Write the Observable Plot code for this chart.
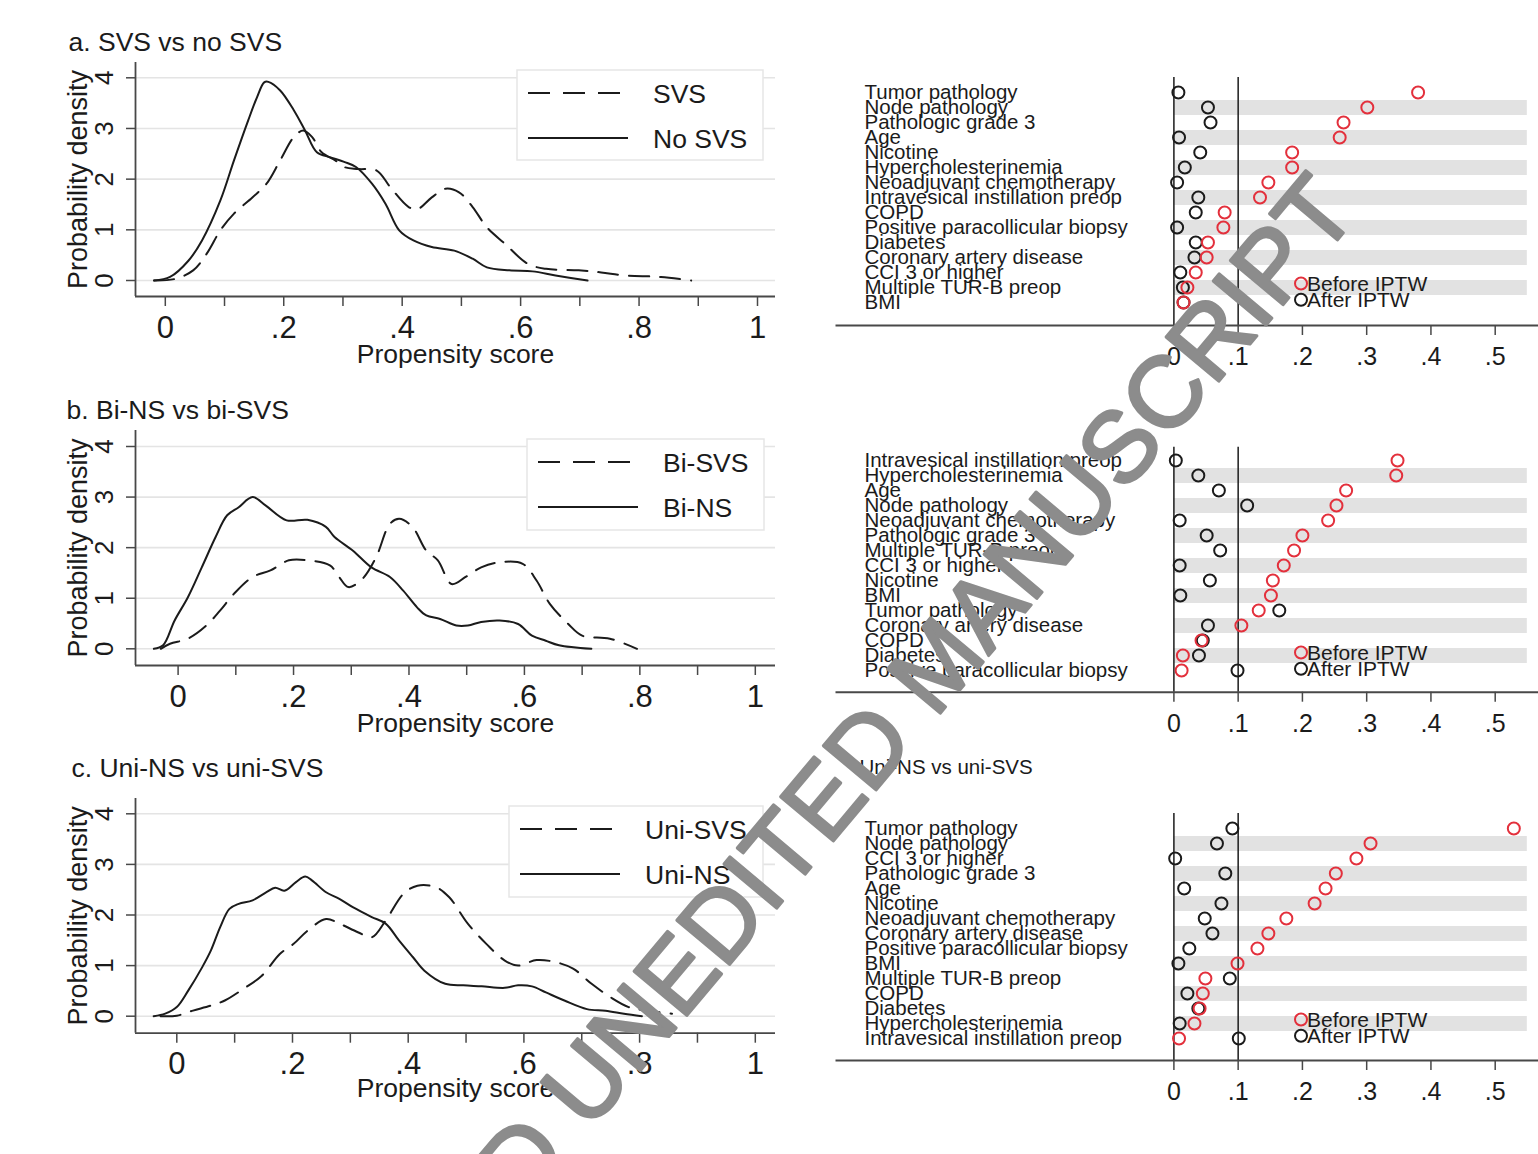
<!DOCTYPE html>
<html>
<head>
<meta charset="utf-8">
<script src="https://cdn.jsdelivr.net/npm/d3@7"></script>
<script src="https://cdn.jsdelivr.net/npm/@observablehq/plot@0.6"></script>
<style>
  html, body { margin: 0; padding: 0; background: #fff; }
  #fig { position: relative; width: 1538px; height: 1154px; overflow: hidden; background: #fff; }
  #fig > svg { position: absolute; left: 0; top: 0; }
</style>
</head>
<body>
<div id="fig"></div>
<script>
// ---------------- DATA ----------------
// Panel a: density of propensity score, [score, density]
const svsA = [[-0.019,0],[0.016,0.03],[0.047,0.2],[0.07,0.53],[0.093,0.99],[0.116,1.32],[0.147,1.64],[0.171,1.91],[0.194,2.37],[0.217,2.83],[0.233,2.96],[0.248,2.83],[0.264,2.53],[0.287,2.37],[0.302,2.24],[0.326,2.2],[0.357,2.17],[0.38,1.84],[0.411,1.45],[0.426,1.41],[0.45,1.64],[0.473,1.81],[0.496,1.74],[0.519,1.45],[0.543,1.05],[0.574,0.72],[0.612,0.33],[0.643,0.23],[0.698,0.2],[0.736,0.16],[0.775,0.1],[0.837,0.07],[0.888,0]];
const noSvsA = [[-0.019,0],[0.008,0.07],[0.039,0.39],[0.062,0.79],[0.093,1.58],[0.116,2.37],[0.14,3.16],[0.155,3.62],[0.167,3.91],[0.174,3.92],[0.194,3.75],[0.217,3.36],[0.236,2.96],[0.256,2.53],[0.279,2.43],[0.302,2.34],[0.322,2.24],[0.349,1.91],[0.372,1.51],[0.395,0.99],[0.419,0.79],[0.45,0.66],[0.488,0.59],[0.519,0.43],[0.543,0.26],[0.581,0.2],[0.62,0.18],[0.659,0.1],[0.713,0]];
// Panel b
const biSvsB = [[-0.03,0],[-0.014,0.1],[0.017,0.2],[0.049,0.46],[0.073,0.76],[0.097,1.09],[0.129,1.42],[0.16,1.55],[0.192,1.75],[0.224,1.75],[0.263,1.65],[0.279,1.42],[0.295,1.22],[0.319,1.38],[0.343,1.81],[0.367,2.47],[0.383,2.57],[0.406,2.41],[0.43,1.94],[0.45,1.75],[0.474,1.28],[0.498,1.42],[0.525,1.61],[0.557,1.71],[0.597,1.68],[0.621,1.35],[0.644,0.89],[0.676,0.49],[0.7,0.26],[0.748,0.2],[0.795,0]];
const biNsB = [[-0.042,0],[-0.026,0.07],[-0.006,0.56],[0.017,1.02],[0.041,1.61],[0.065,2.21],[0.085,2.64],[0.105,2.8],[0.129,3.0],[0.152,2.83],[0.188,2.54],[0.224,2.55],[0.256,2.41],[0.271,2.21],[0.303,1.94],[0.335,1.61],[0.367,1.42],[0.39,1.15],[0.414,0.82],[0.43,0.66],[0.454,0.59],[0.482,0.46],[0.502,0.46],[0.525,0.53],[0.557,0.56],[0.589,0.49],[0.613,0.26],[0.637,0.16],[0.66,0.07],[0.716,0]];
// Panel c
const uniSvsC = [[-0.028,0],[0,0.01],[0.028,0.11],[0.059,0.21],[0.083,0.31],[0.115,0.54],[0.147,0.8],[0.178,1.23],[0.202,1.43],[0.226,1.69],[0.258,1.92],[0.281,1.83],[0.313,1.66],[0.337,1.56],[0.361,1.89],[0.392,2.42],[0.416,2.58],[0.448,2.55],[0.471,2.35],[0.503,1.83],[0.535,1.43],[0.567,1.1],[0.59,1.0],[0.622,1.11],[0.654,1.07],[0.685,0.94],[0.717,0.64],[0.749,0.38],[0.781,0.18],[0.812,0.11],[0.856,0.05]];
const uniNsC = [[-0.04,0],[-0.02,0.05],[0,0.18],[0.02,0.51],[0.044,0.97],[0.059,1.3],[0.075,1.76],[0.091,2.12],[0.107,2.22],[0.131,2.29],[0.155,2.45],[0.17,2.54],[0.186,2.48],[0.206,2.65],[0.222,2.76],[0.234,2.68],[0.258,2.45],[0.281,2.32],[0.305,2.15],[0.337,1.96],[0.361,1.83],[0.384,1.5],[0.408,1.17],[0.428,0.9],[0.464,0.64],[0.495,0.61],[0.527,0.59],[0.567,0.56],[0.59,0.61],[0.614,0.59],[0.638,0.47],[0.67,0.31],[0.709,0.14],[0.741,0.11],[0.773,0.05],[0.804,0]];

// Standardized differences, before / after IPTW
const rows1 = ["Tumor pathology","Node pathology","Pathologic grade 3","Age","Nicotine","Hypercholesterinemia","Neoadjuvant chemotherapy","Intravesical instillation preop","COPD","Positive paracollicular biopsy","Diabetes","Coronary artery disease","CCI 3 or higher","Multiple TUR-B preop","BMI"];
const before1 = [0.380,0.301,0.264,0.258,0.184,0.184,0.147,0.134,0.079,0.077,0.053,0.051,0.034,0.021,0.015];
const after1  = [0.007,0.053,0.057,0.008,0.041,0.017,0.005,0.038,0.034,0.005,0.034,0.032,0.010,0.014,0.015];

const rows2 = ["Intravesical instillation preop","Hypercholesterinemia","Age","Node pathology","Neoadjuvant chemotherapy","Pathologic grade 3","Multiple TUR-B preop","CCI 3 or higher","Nicotine","BMI","Tumor pathology","Coronary artery disease","COPD","Diabetes","Positive paracollicular biopsy"];
const before2 = [0.348,0.346,0.268,0.253,0.240,0.200,0.187,0.171,0.154,0.151,0.132,0.105,0.043,0.014,0.012];
const after2  = [0.003,0.038,0.070,0.114,0.009,0.051,0.072,0.009,0.056,0.010,0.164,0.053,0.045,0.039,0.099];

const rows3 = ["Tumor pathology","Node pathology","CCI 3 or higher","Pathologic grade 3","Age","Nicotine","Neoadjuvant chemotherapy","Coronary artery disease","Positive paracollicular biopsy","BMI","Multiple TUR-B preop","COPD","Diabetes","Hypercholesterinemia","Intravesical instillation preop"];
const before3 = [0.529,0.306,0.284,0.252,0.236,0.219,0.175,0.147,0.130,0.099,0.049,0.045,0.040,0.032,0.008];
const after3  = [0.091,0.067,0.002,0.080,0.016,0.074,0.048,0.060,0.024,0.007,0.087,0.021,0.038,0.009,0.101];

// Ticks and labels
const densityXTicks = [0, 0.2, 0.4, 0.6, 0.8, 1];
const densityXTickLabels = ["0", ".2", ".4", ".6", ".8", "1"];
const densityYTicks = [0, 1, 2, 3, 4];
const smdTicks = [0, 0.1, 0.2, 0.3, 0.4, 0.5];
const smdTickLabels = ["0", ".1", ".2", ".3", ".4", ".5"];
const smdRefLines = [0, 0.1];
const xAxisTitle = "Propensity score";
const yAxisTitle = "Probability density";
const titles = ["a. SVS vs no SVS", "b. Bi-NS vs bi-SVS", "c. Uni-NS vs uni-SVS"];
const seriesNames = [["SVS", "No SVS"], ["Bi-SVS", "Bi-NS"], ["Uni-SVS", "Uni-NS"]];
const smdTitle3 = "Uni-NS vs uni-SVS";
const legendNames = ["Before IPTW", "After IPTW"];
const watermarkText = "D UNEDITED MANUSCRIPT";

// ---------------- STYLE / LAYOUT ----------------
const W = 1538, H = 1154;
const FONT = '"Liberation Sans", Arial, Helvetica, sans-serif';
const INK = "#1b1b1b";
const AXIS = "#484848";
const RED = "#e3303c";
const GRID = "#e4e4e4";
const STRIPE = "#e2e2e2";
const tenths = d3.range(11).map(i => i / 10);

function fmtFrom(ticks, labels) {
  return d => {
    const i = ticks.findIndex(t => Math.abs(t - d) < 1e-9);
    return i >= 0 ? labels[i] : "";
  };
}

const leftLayout = [
  {frame: {l: 135, r: 775, t: 62, b: 296}, x0px: 164.8, x1px: 757, y0px: 280, y4px: 77.3,
   titleX: 68, titleY: 42, xTitleY: 354, legend: {x: 517, y: 70, w: 246, h: 90}},
  {frame: {l: 135, r: 775, t: 430, b: 665}, x0px: 177.6, x1px: 754.8, y0px: 648.3, y4px: 446,
   titleX: 66, titleY: 410, xTitleY: 723, legend: {x: 527, y: 439, w: 237, h: 91}},
  {frame: {l: 135, r: 775, t: 798, b: 1032.7}, x0px: 176.3, x1px: 754.8, y0px: 1015.7, y4px: 813.3,
   titleX: 71, titleY: 768, xTitleY: 1088, legend: {x: 509, y: 806, w: 254, h: 91}}
];
const leftSeries = [[svsA, noSvsA], [biSvsB, biNsB], [uniSvsC, uniNsC]];

const rightLayout = [
  {frame: {l: 836, r: 1538, t: 77, b: 325}, row0: 85.7, rowN: 308.3},
  {frame: {l: 836, r: 1538, t: 446.7, b: 691.7}, row0: 454, rowN: 676.7},
  {frame: {l: 836, r: 1538, t: 813, b: 1060}, row0: 821.7, rowN: 1044, titleX: 859, titleY: 767}
];
const rightX0px = 1173.4, rightX5px = 1494.7, stripeEnd = 0.55;
const rightSeries = [[rows1, before1, after1], [rows2, before2, after2], [rows3, before3, after3]];

const fig = document.getElementById("fig");

function densityPanel(i) {
  const p = leftLayout[i];
  const [dashed, solid] = leftSeries[i];
  const ux = p.x1px - p.x0px;
  const uy = (p.y0px - p.y4px) / 4;
  const xDom = [(p.frame.l - p.x0px) / ux, (p.frame.r - p.x0px) / ux];
  const yDom = [(p.y0px - p.frame.b) / uy, (p.y0px - p.frame.t) / uy];
  return Plot.plot({
    width: W, height: H,
    marginLeft: p.frame.l, marginRight: W - p.frame.r,
    marginTop: p.frame.t, marginBottom: H - p.frame.b,
    x: {domain: xDom, label: null}, y: {domain: yDom, label: null},
    style: {background: "transparent", fontFamily: FONT, fontSize: "31px", color: AXIS},
    marks: [
      Plot.gridY(densityYTicks, {stroke: GRID, strokeOpacity: 1, strokeWidth: 1.6}),
      Plot.axisX({ticks: tenths, tickSize: 10, tickPadding: 9, tickFormat: fmtFrom(densityXTicks, densityXTickLabels),
                  label: null, fontSize: 31, fill: INK, stroke: AXIS, strokeWidth: 1.5}),
      Plot.axisY({ticks: densityYTicks, tickSize: 9, tickFormat: () => "", label: null, stroke: AXIS, strokeWidth: 1.5}),
      Plot.ruleX([xDom[0]], {stroke: AXIS, strokeWidth: 1.8}),
      Plot.ruleY([yDom[0]], {stroke: AXIS, strokeWidth: 1.8}),
      Plot.text(densityYTicks, {y: d => d, text: d => String(d), frameAnchor: "left", dx: -31, rotate: -90,
                                textAnchor: "middle", lineAnchor: "middle", fontSize: 26, fill: INK}),
      Plot.text([titles[i]], {text: d => d, frameAnchor: "top-left", dx: p.titleX - p.frame.l, dy: p.titleY - p.frame.t,
                              textAnchor: "start", lineAnchor: "middle", fontSize: 26.5, fill: INK}),
      Plot.text([xAxisTitle], {text: d => d, frameAnchor: "bottom", dy: p.xTitleY - p.frame.b,
                               textAnchor: "middle", lineAnchor: "middle", fontSize: 26.5, fill: INK}),
      Plot.text([yAxisTitle], {text: d => d, frameAnchor: "left", dx: -57, rotate: -90,
                               textAnchor: "middle", lineAnchor: "middle", fontSize: 27, fill: INK}),
      Plot.line(solid, {x: d => d[0], y: d => d[1], curve: "catmull-rom", stroke: INK, strokeWidth: 2}),
      Plot.line(dashed, {x: d => d[0], y: d => d[1], curve: "catmull-rom", stroke: INK, strokeWidth: 2,
                         strokeDasharray: "20,11"})
    ]
  });
}

function smdPanel(i) {
  const p = rightLayout[i];
  const [rows, before, after] = rightSeries[i];
  const ux = (rightX5px - rightX0px) / 0.5;
  const xDom = [(p.frame.l - rightX0px) / ux, (p.frame.r - rightX0px) / ux];
  const stripes = rows.filter((d, k) => k % 2 === 1);
  const bData = rows.map((r, k) => ({row: r, v: before[k]}));
  const aData = rows.map((r, k) => ({row: r, v: after[k]}));
  const marks = [
    Plot.ruleY(stripes, {y: d => d, x1: 0, x2: stripeEnd, stroke: STRIPE, strokeWidth: 15}),
    Plot.ruleX(smdRefLines, {stroke: INK, strokeWidth: 1.5}),
    Plot.frame({anchor: "bottom", stroke: AXIS, strokeWidth: 2}),
    Plot.axisX({ticks: smdTicks, tickSize: 10, tickPadding: 12, tickFormat: fmtFrom(smdTicks, smdTickLabels),
                label: null, fontSize: 25, fill: INK, stroke: AXIS, strokeWidth: 1.5}),
    Plot.text(rows, {y: d => d, text: d => d, frameAnchor: "left", dx: 28, textAnchor: "start",
                     lineAnchor: "middle", fontSize: 20.5, fill: INK}),
    Plot.dot(aData, {x: "v", y: "row", r: 6, stroke: INK, strokeWidth: 2, fill: "none"}),
    Plot.dot(bData, {x: "v", y: "row", r: 6, stroke: RED, strokeWidth: 2, fill: "none"})
  ];
  if (i === 2) {
    marks.push(Plot.text([smdTitle3], {text: d => d, frameAnchor: "top-left", dx: p.titleX - p.frame.l,
      dy: p.titleY - p.frame.t, textAnchor: "start", lineAnchor: "middle", fontSize: 20.5, fill: INK}));
  }
  return Plot.plot({
    width: W, height: H,
    marginLeft: p.frame.l, marginRight: W - p.frame.r,
    marginTop: p.frame.t, marginBottom: H - p.frame.b,
    x: {domain: xDom, label: null},
    y: {type: "point", domain: rows, range: [p.row0, p.rowN], padding: 0, axis: null, label: null},
    style: {background: "transparent", fontFamily: FONT, fontSize: "25px", color: AXIS},
    marks
  });
}

for (let i = 0; i < 3; i++) fig.appendChild(densityPanel(i));
for (let i = 0; i < 3; i++) fig.appendChild(smdPanel(i));

// ---------------- LEGENDS ----------------
leftLayout.forEach((p, i) => {
  const L = p.legend;
  const svg = d3.select(fig).append("svg")
    .attr("width", L.w + 2).attr("height", L.h + 2)
    .style("left", (L.x - 1) + "px").style("top", (L.y - 1) + "px")
    .style("position", "absolute").style("overflow", "visible");
  svg.append("rect").attr("x", 1).attr("y", 1).attr("width", L.w).attr("height", L.h)
    .attr("fill", "#fff").attr("stroke", "#e6e6e6").attr("stroke-width", 1.5);
  svg.append("line").attr("x1", 12).attr("x2", 104).attr("y1", 24).attr("y2", 24)
    .attr("stroke", INK).attr("stroke-width", 2.2).attr("stroke-dasharray", "22,13");
  svg.append("line").attr("x1", 12).attr("x2", 112).attr("y1", 69).attr("y2", 69)
    .attr("stroke", INK).attr("stroke-width", 2.2);
  [24, 69].forEach((yy, k) => {
    svg.append("text").attr("x", 137).attr("y", yy + 9.5).text(seriesNames[i][k])
      .attr("font-family", FONT).attr("font-size", 26.5).attr("fill", INK);
  });
});

rightLayout.forEach((p) => {
  const svg = d3.select(fig).append("svg")
    .attr("width", 160).attr("height", 40)
    .style("left", "1290px").style("top", (p.rowN - 38) + "px")
    .style("position", "absolute").style("overflow", "visible");
  const ys = [p.rowN - 24.5, p.rowN - 8.2].map(v => v - (p.rowN - 38));
  [RED, INK].forEach((c, k) => {
    svg.append("circle").attr("cx", 11).attr("cy", ys[k]).attr("r", 6)
      .attr("fill", "none").attr("stroke", c).attr("stroke-width", 2);
    svg.append("text").attr("x", 17).attr("y", ys[k] + 7.5).text(legendNames[k])
      .attr("font-family", FONT).attr("font-size", 21).attr("fill", INK);
  });
});

// ---------------- WATERMARK ----------------
fig.appendChild(Plot.plot({
  width: W, height: H, margin: 0,
  style: {background: "transparent", fontFamily: FONT},
  marks: [
    Plot.text([watermarkText], {text: d => d, frameAnchor: "top-left", dx: 1335, dy: 192, rotate: -50,
      textAnchor: "end", lineAnchor: "middle", fontSize: 100, fill: "#8c8c8c",
      stroke: "#8c8c8c", strokeWidth: 3})
  ]
}));
</script>
</body>
</html>
